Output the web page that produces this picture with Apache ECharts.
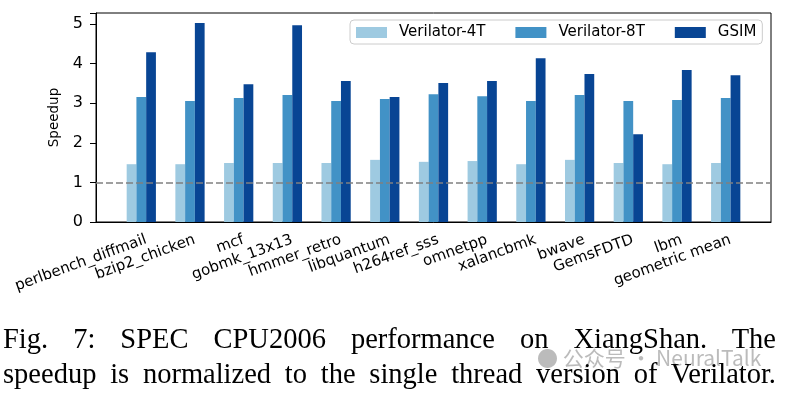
<!DOCTYPE html>
<html>
<head>
<meta charset="utf-8">
<script src="https://cdn.jsdelivr.net/npm/echarts@6/dist/echarts.min.js"></script>
<style>
  html, body { margin: 0; padding: 0; background: #fff; }
  #wrap { position: relative; width: 793px; height: 398px; overflow: hidden; }
  #chart { position: absolute; left: 0; top: 0; width: 793px; height: 398px; }
  .cap { position: absolute; left: 3px; width: 773px; font-family: "Liberation Serif", "Times New Roman", serif;
         font-size: 28.5px; line-height: 34px; color: #000; text-align: justify; text-align-last: justify; white-space: normal; }
  #wm { position: absolute; left: 537px; top: 342px; font-family: "Noto Sans CJK SC", "Noto Sans", sans-serif;
        font-size: 21px; color: rgba(120,120,120,0.5); white-space: nowrap; }
</style>
</head>
<body>
<div id="wrap">
  <div id="chart"></div>
  <div id="wm">● 公众号 · NeuralTalk</div>
  <div class="cap" style="top: 322px;">Fig. 7: SPEC CPU2006 performance on XiangShan. The</div>
  <div class="cap" style="top: 357px;">speedup is normalized to the single thread version of Verilator.</div>
</div>
<script>
const categories = ["perlbench_diffmail", "bzip2_chicken", "mcf", "gobmk_13x13", "hmmer_retro",
  "libquantum", "h264ref_sss", "omnetpp", "xalancbmk", "bwave", "GemsFDTD", "lbm", "geometric mean"];
const seriesNames = ["Verilator-4T", "Verilator-8T", "GSIM"];
const verilator4T = [1.46, 1.46, 1.49, 1.49, 1.49, 1.57, 1.52, 1.54, 1.46, 1.57, 1.49, 1.46, 1.49];
const verilator8T = [3.16, 3.06, 3.13, 3.21, 3.06, 3.11, 3.23, 3.18, 3.06, 3.21, 3.06, 3.08, 3.13];
const gsim        = [4.29, 5.03, 3.48, 4.97, 3.56, 3.16, 3.51, 3.56, 4.14, 3.74, 2.22, 3.84, 3.71];
const yTicks = [0, 1, 2, 3, 4, 5];
const baseline = 1;

const colors = ["#9ecae1", "#4292c6", "#084594"];
const values = [verilator4T, verilator8T, gsim];
const font = "DejaVu Sans";

const chart = echarts.init(document.getElementById('chart'), null, { renderer: 'canvas' });
const series = seriesNames.map((name, s) => ({
  name: name,
  type: 'bar',
  barWidth: 9.75,
  barGap: '0%',
  itemStyle: { color: colors[s] },
  data: categories.map((c, i) => [i, values[s][i]]),
  z: 2
}));
series[2].markLine = {
  silent: true,
  symbol: 'none',
  label: { show: false },
  lineStyle: { type: [7, 3], color: '#808080', width: 1.5 },
  data: [{ yAxis: baseline }],
  z: 5
};

chart.setOption({
  animation: false,
  grid: { left: 96, right: 22, top: 13, bottom: 176, show: true, borderColor: '#000', borderWidth: 1, backgroundColor: 'transparent' },
  legend: {
    data: seriesNames,
    left: 350, top: 20,
    orient: 'horizontal',
    icon: 'rect',
    itemWidth: 31, itemHeight: 11, itemGap: 30,
    padding: [5, 6, 4, 6],
    backgroundColor: 'rgba(255,255,255,0.8)',
    borderColor: '#cccccc', borderWidth: 1, borderRadius: 4,
    textStyle: { fontFamily: font, fontSize: 15, color: '#000', padding: [0, 0, 0, 7] }
  },
  xAxis: {
    type: 'value',
    min: -0.93, max: 12.93,
    splitLine: { show: false },
    axisLine: { show: true, onZero: false, lineStyle: { color: '#000', width: 1 } },
    axisTick: { show: false },
    axisLabel: {
      customValues: categories.map((c, i) => i),
      formatter: v => categories[Math.round(v)],
      rotate: 20,
      margin: 19,
      padding: [0, -5, 0, 0],
      fontFamily: font, fontSize: 15, color: '#000'
    }
  },
  yAxis: {
    type: 'value',
    min: 0, max: 5.28, interval: 1,
    name: 'Speedup',
    nameLocation: 'middle', nameRotate: 90, nameGap: 32,
    nameTextStyle: { fontFamily: font, fontSize: 13.5, color: '#000' },
    splitLine: { show: false },
    axisLine: { show: true, onZero: false, lineStyle: { color: '#000', width: 1 } },
    axisTick: { show: true, inside: false, length: 6, lineStyle: { color: '#000', width: 1 } },
    axisLabel: { customValues: yTicks, margin: 13, fontFamily: font, fontSize: 16, color: '#000' }
  },
  series: series
});
</script>
</body>
</html>
